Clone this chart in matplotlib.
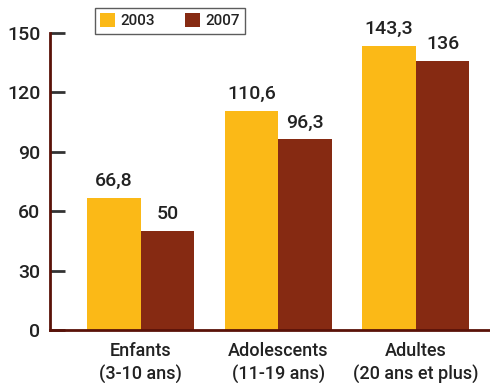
import matplotlib.pyplot as plt
import numpy as np

# Data
categories = ["Enfants\n(3-10 ans)", "Adolescents\n(11-19 ans)", "Adultes\n(20 ans et plus)"]
years = ["2003", "2007"]
values_2003 = [66.8, 110.6, 143.3]
values_2007 = [50, 96.3, 136]
labels_2003 = ["66,8", "110,6", "143,3"]
labels_2007 = ["50", "96,3", "136"]
yticks = [0, 30, 60, 90, 120, 150]

plt.rcParams['font.family'] = ['Roboto', 'DejaVu Sans']
plt.rcParams['font.weight'] = 'medium'

fig = plt.figure(figsize=(4.9, 3.83), dpi=100)
ax = fig.add_axes([50/490, 53/383, 440/490, 297/383])

yellow = '#FBB917'
brown = '#862A12'
txt = '#222222'

x = np.arange(len(categories))
w = 0.39
b1 = ax.bar(x - w/2, values_2003, w, color=yellow, label=years[0])
b2 = ax.bar(x + w/2, values_2007, w, color=brown, label=years[1])

for rect, lab in zip(b1, labels_2003):
    ax.text(rect.get_x() + rect.get_width()/2, rect.get_height() + 4, lab,
            ha='center', va='bottom', fontsize=14, color=txt)
for rect, lab in zip(b2, labels_2007):
    ax.text(rect.get_x() + rect.get_width()/2, rect.get_height() + 4, lab,
            ha='center', va='bottom', fontsize=14, color=txt)

ax.set_xlim(-0.66, 2.54)
ax.set_ylim(0, 150)
ax.set_yticks(yticks)
ax.set_yticklabels([str(v) for v in yticks], fontsize=14, color=txt)
ax.set_xticks(x)
ax.set_xticklabels(categories, fontsize=13, color=txt, linespacing=1.3)
ax.tick_params(axis='x', length=0, pad=9)
ax.tick_params(axis='y', direction='in', length=11, width=2, color='#333333', pad=7)

for s in ['top', 'right']:
    ax.spines[s].set_visible(False)
ax.spines['left'].set_color('#5a1208')
ax.spines['bottom'].set_color('#5a1208')
ax.spines['left'].set_linewidth(2)
ax.spines['bottom'].set_linewidth(2)

leg = fig.legend(loc='upper left', bbox_to_anchor=(95/490, 1 - 8/383), ncol=2,
                 fontsize=11, frameon=True, fancybox=False, edgecolor='#333333',
                 handlelength=0.95, handleheight=0.95, columnspacing=2.0,
                 handletextpad=0.35, borderpad=0.35, borderaxespad=0)
leg.get_frame().set_linewidth(1)
for t in leg.get_texts():
    t.set_color(txt)

fig.savefig('out.png', dpi=100)
